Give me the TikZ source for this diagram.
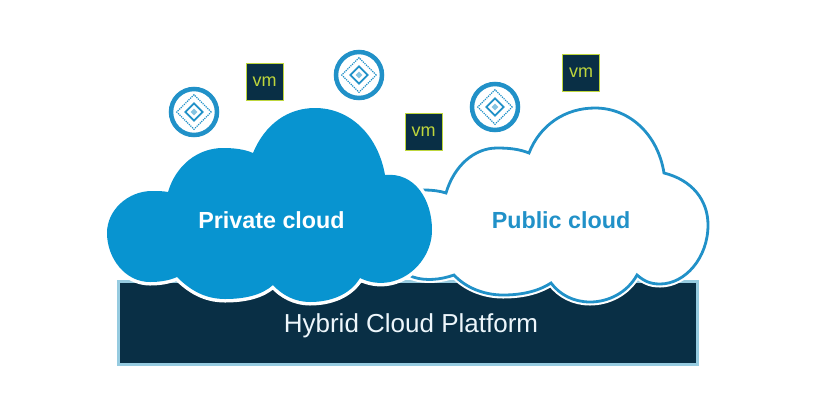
\documentclass[tikz,border=0pt]{standalone}
\usepackage{fontspec}
\setmainfont{Liberation Sans}
\usepackage{tikz}
\usetikzlibrary{shapes.geometric}
\definecolor{cloudblue}{RGB}{8,148,208}
\definecolor{lineblue}{RGB}{33,145,200}
\definecolor{platformnavy}{RGB}{9,47,69}
\definecolor{platformedge}{RGB}{150,203,224}
\definecolor{vmlime}{RGB}{190,214,60}

\begin{document}
\begin{tikzpicture}[x=1pt,y=-1pt,
  vmbox/.style={draw=vmlime,line width=1pt,fill=platformnavy,text=vmlime,
                minimum size=37pt,inner sep=0pt,font=\fontsize{18}{18}\selectfont},
  ring/.style={circle,draw=lineblue,line width=4.5pt,fill=white,minimum size=46pt,inner sep=0pt},
  dotdiamond/.style={diamond,draw=lineblue,densely dotted,line width=1.2pt,
                     minimum size=35pt,inner sep=0pt},
  soliddiamond/.style={diamond,draw=lineblue,line width=1.8pt,fill=white,
                       minimum size=18pt,inner sep=0pt},
  coredot/.style={diamond,fill=lineblue!55,minimum size=7pt,inner sep=0pt},
  halo/.style={preaction={draw=white,line width=7pt}}]
  \useasboundingbox (0,0) rectangle (818,400);
  \fill[white] (0,0) rectangle (818,400);

  % base bar
  \node[draw=platformedge,line width=3pt,fill=platformnavy,minimum width=579pt,
        minimum height=83pt,inner sep=0pt](platform) at (408,322.5) {};

  % white cloud, its left end runs in behind the blue one
  \path[halo,draw=lineblue,line width=2.8pt,fill=white]
    (400,190) -- (425,190) .. controls (432,190) and (440,191) .. (446,193)
    .. controls (454,166) and (474,148) .. (497,148)
    .. controls (509,148) and (519,149) .. (529,153)
    .. controls (540,125) and (565,108) .. (595,108)
    .. controls (630,108) and (658,135) .. (664,173)
    .. controls (692,180) and (708,200) .. (708,225)
    .. controls (708,258) and (685,284) .. (660,284)
    .. controls (650,284) and (644,281) .. (637,275)
    .. controls (627,293) and (608,302) .. (590,302)
    .. controls (574,302) and (560,295) .. (551,283)
    .. controls (537,292) and (520,295) .. (503,295)
    .. controls (483,295) and (465,287) .. (454,275)
    .. controls (440,280) and (425,281) .. (413,277)
    -- (400,270) -- cycle;

  % blue cloud
  \path[halo,fill=cloudblue]
    (168,192) .. controls (176,165) and (198,148) .. (223,148)
    .. controls (233,148) and (244,149) .. (253,153)
    .. controls (265,124) and (288,108) .. (315,108)
    .. controls (350,108) and (378,135) .. (385,175)
    .. controls (415,172) and (432,200) .. (432,230)
    .. controls (432,265) and (395,295) .. (360,278)
    .. controls (350,295) and (330,302) .. (310,302)
    .. controls (295,302) and (282,295) .. (273,285)
    .. controls (262,295) and (245,299) .. (225,299)
    .. controls (205,299) and (190,290) .. (177,277)
    .. controls (168,281) and (158,282) .. (150,282)
    .. controls (125,282) and (107,258) .. (107,233)
    .. controls (107,210) and (128,191) .. (152,191)
    .. controls (158,191) and (163,191) .. (168,192) -- cycle;

  \node[font=\fontsize{23.3}{24}\selectfont\bfseries,text=white](private) at (271.5,220) {Private cloud};
  \node[font=\fontsize{23.3}{24}\selectfont\bfseries,text=lineblue](public) at (561,220) {Public cloud};
  \node[font=\fontsize{26}{26}\selectfont,text=white!92!lineblue](hybrid) at (411,326) {Hybrid Cloud Platform};

  \node[vmbox](vma) at (264.5,81.5)  {vm};
  \node[vmbox](vmb) at (423.5,131.5) {vm};
  \node[vmbox](vmc) at (581,73)      {vm};

  \foreach \i/\x/\y in {a/194/112,b/359/75,c/495/107}{
    \node[ring](ring\i) at (\x,\y) {};
    \node[dotdiamond](outer\i) at (ring\i) {};
    \node[soliddiamond](inner\i) at (ring\i) {};
    \node[coredot](core\i) at (ring\i) {};}
\end{tikzpicture}
\end{document}
